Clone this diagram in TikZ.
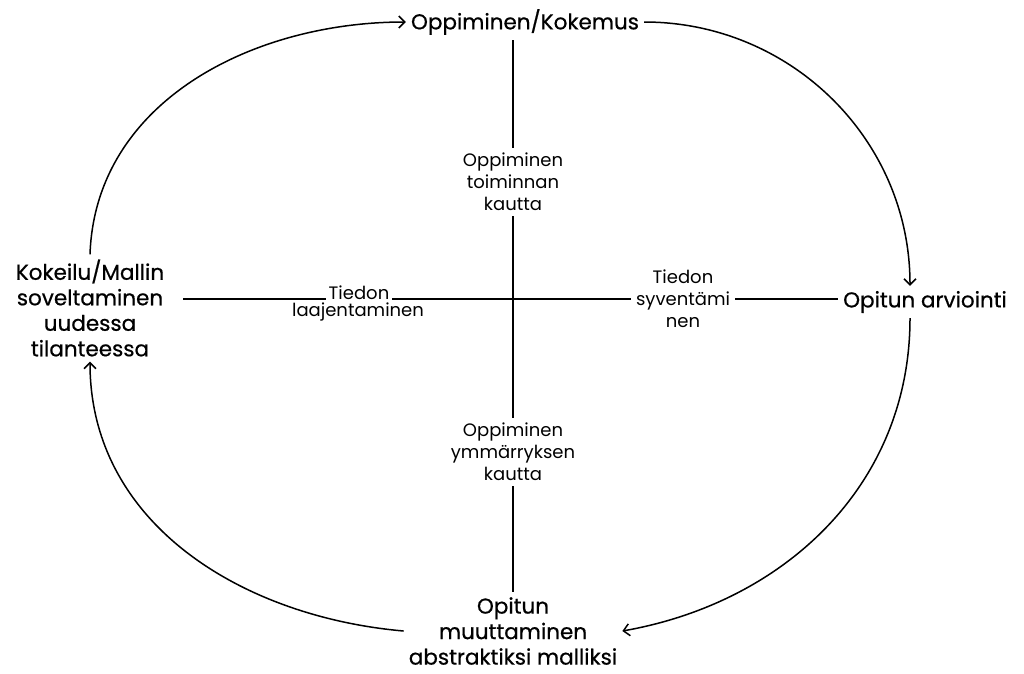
\documentclass[tikz,border=0pt]{standalone}
\usepackage{fontspec}
\setmainfont{Poppins}
\newfontfamily\heavyfont{Poppins}[FakeBold=0.6]
\usetikzlibrary{arrows.meta}
\tikzstyle{mainlabel} = [
    align=center,
    font=\heavyfont\fontsize{21.5}{25.5}\selectfont,
    inner sep=5pt
    ]
\tikzstyle{sublabel} = [
    align=center,
    font=\fontsize{18}{22}\selectfont,
    inner sep=5pt
    ]
\tikzstyle{axisline} = [
    line width=2pt
    ]
\tikzstyle{cyclearrow} = [
    line width=1.5pt,
    -{Straight Barb[length=6pt,width=12pt]}
    ]

\begin{document}
\begin{tikzpicture}[x=1pt,y=-1pt]
\useasboundingbox (0,0) rectangle (1024,673);
% cycle
\node[mainlabel] (kokemus) at (525,22) {Oppiminen/Kokemus};
\node[mainlabel] (kokeilu) at (90,308) {Kokeilu/Mallin\\soveltaminen\\uudessa\\tilanteessa};
\node[mainlabel] (arviointi) at (925,302) {Opitun arviointi};
\node[mainlabel] (malli) at (513,631) {Opitun\\muuttaminen\\abstraktiksi malliksi};
% axes
\coordinate (keski) at (513,299);
\node[sublabel] (toiminta) at (513,182) {Oppiminen\\toiminnan\\kautta};
\node[sublabel] (ymmarrys) at (513,452) {Oppiminen\\ymmärryksen\\kautta};
\node[sublabel] (syventa) at (683,299) {Tiedon\\syventämi\\nen};
\node[sublabel, anchor=base, inner sep=3pt] (tiedon) at (359,299) {Tiedon};
\node[sublabel, inner sep=3pt] (laajenta) at (358,312) {laajentaminen};

\draw[axisline] (keski |- kokemus.south) -- (toiminta.north);
\draw[axisline] (toiminta.south) -- (ymmarrys.north);
\draw[axisline] (ymmarrys.south) -- (malli.north);
\draw[axisline, shorten <=14pt] (keski -| kokeilu.east) -- (tiedon.base west);
\draw[axisline] (tiedon.base east) -- (syventa.west);
\draw[axisline] (syventa.east) -- (syventa.east -| arviointi.west);

\draw[cyclearrow] (kokeilu.north) to[out=88,in=180] (kokemus.west);
\draw[cyclearrow] (kokemus.east) to[out=0,in=90] ([xshift=-15pt]arviointi.north);
\draw[cyclearrow] ([xshift=-15pt]arviointi.south) to[out=-90,in=10] (malli.east);
\draw[cyclearrow] (malli.west) to[out=175,in=-90] (kokeilu.south);
\end{tikzpicture}
\end{document}
